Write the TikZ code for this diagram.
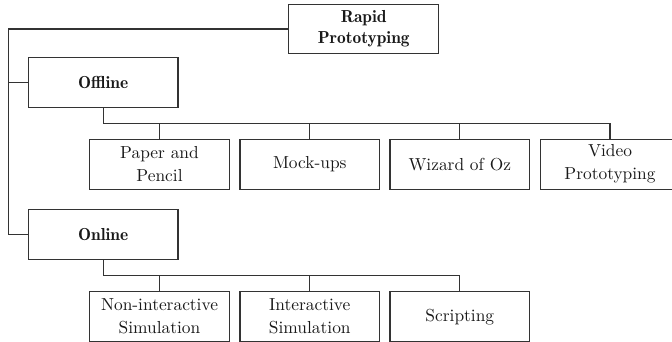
\documentclass[tikz,border=0pt]{standalone}
\begin{document}
\begin{tikzpicture}[x=0.575pt,y=-0.575pt,
  box/.style={draw=black!80, line width=0.6pt, align=center, inner sep=0pt, outer sep=0pt, text=black!90},
  topic/.style={box, minimum width=86pt, minimum height=28.6pt,
    font=\fontsize{10}{12.3}\fontseries{b}\selectfont},
  leaf/.style={box, minimum width=80.3pt, minimum height=28.6pt,
    font=\fontsize{10}{13.2}\selectfont},
  link/.style={draw=black!80, line width=0.6pt}]
\clip (0,0) rectangle (672,341);

% root and the two branches
\node[topic] (root)    at (363.7,29)  {Rapid\\Prototyping};
\node[topic] (offline) at (103.2,82.5) {Offline};
\node[topic] (online)  at (103.2,234.7) {Online};

% offline techniques
\node[leaf] (paper)  at (159.5,164.2) {Paper and\\Pencil};
\node[leaf] (mock)   at (309.8,164.2) {Mock-ups};
\node[leaf] (wizard) at (459.8,164.2) {Wizard of Oz};
\node[leaf] (video)  at (610,164.2)   {Video\\Prototyping};

% online techniques
\node[leaf] (nonint) at (159.5,316.7) {Non-interactive\\Simulation};
\node[leaf] (inter)  at (309.8,316.7) {Interactive\\Simulation};
\node[leaf] (script) at (459.8,316.7) {Scripting};

% spine on the left
\coordinate (spine) at (8.3,29);
\draw[link] (root.west) -- (spine) |- (offline.west);
\draw[link] (spine) |- (online.west);

% branch connectors
\foreach \c in {paper,mock,wizard,video}
  \draw[link] (offline.south) -- ++(0,16) -| (\c.north);
\foreach \c in {nonint,inter,script}
  \draw[link] (online.south) -- ++(0,16.4) -| (\c.north);
\end{tikzpicture}
\end{document}
